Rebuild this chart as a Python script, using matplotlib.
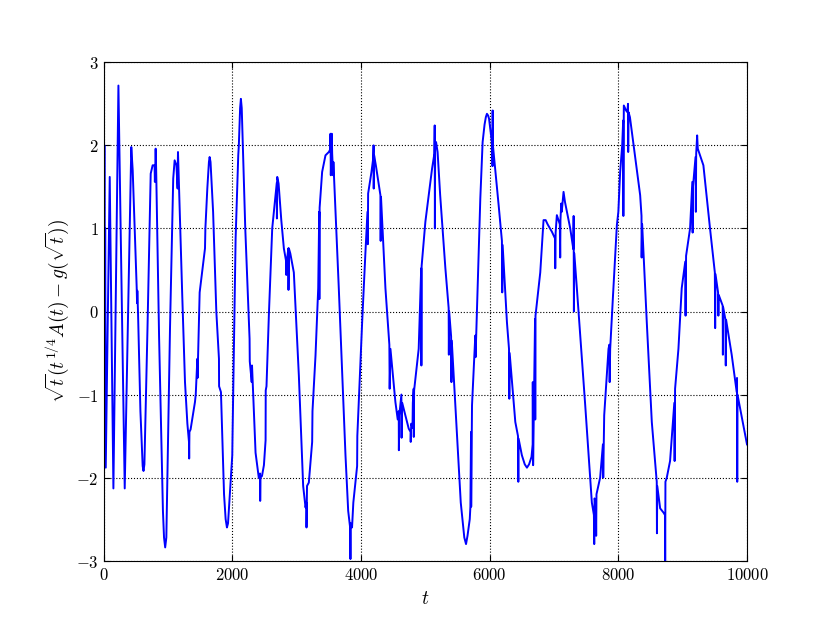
import numpy as np
import matplotlib
matplotlib.use('Agg')
import matplotlib.pyplot as plt
from matplotlib.ticker import FuncFormatter

# values (t, y), spikes as short excursions
t_vals = [0, 5, 10, 15, 22, 31, 93, 150, 228, 326, 428, 450, 512, 518, 522, 533,
          570, 605, 618, 632, 680, 730, 760, 790, 795, 800, 807, 815, 860, 920,
          937, 955, 973, 1030, 1080, 1102, 1130, 1148, 1150, 1154, 1170, 1220,
          1263, 1300, 1325, 1328, 1332, 1350, 1418, 1430, 1455, 1458, 1491, 1574,
          1580, 1610, 1620, 1635, 1646, 1660, 1700, 1750, 1791, 1793, 1822, 1870,
          1895, 1915, 1932, 1998, 2002, 2050, 2091, 2100, 2120, 2132, 2145, 2200,
          2267, 2270, 2300, 2305, 2360, 2410, 2430, 2432, 2436, 2460, 2490, 2516,
          2518, 2530, 2567, 2619, 2671, 2690, 2692, 2697, 2718, 2760, 2800, 2836,
          2838, 2845, 2870, 2872, 2878, 2900, 2955, 3033, 3100, 3137, 3150, 3152,
          3160, 3188, 3200, 3240, 3245, 3292, 3334, 3350, 3352, 3356, 3395, 3447,
          3499, 3520, 3525, 3530, 3545, 3551, 3566, 3570, 3654, 3758, 3800, 3830,
          3835, 3840, 3860, 3880, 3939, 3942, 4017, 4068, 4100, 4105, 4110, 4162,
          4190, 4195, 4197, 4203, 4230, 4290, 4301, 4305, 4310, 4379, 4440, 4445,
          4457, 4534, 4570, 4586, 4588, 4595, 4627, 4630, 4640, 4689, 4741, 4770,
          4772, 4780, 4800, 4805, 4818, 4820, 4825, 4896, 4935, 4938, 4942, 5000,
          5052, 5104, 5140, 5145, 5148, 5152, 5166, 5190, 5230, 5311, 5362, 5365,
          5370, 5400, 5405, 5410, 5466, 5550, 5605, 5632, 5655, 5690, 5700, 5710,
          5712, 5725, 5776, 5780, 5828, 5854, 5890, 5920, 5940, 5957, 5975, 5990,
          6040, 6044, 6046, 6050, 6139, 6190, 6195, 6201, 6268, 6300, 6305, 6310,
          6398, 6440, 6445, 6449, 6500, 6545, 6579, 6612, 6650, 6668, 6670, 6675,
          6690, 6705, 6708, 6712, 6786, 6837, 6870, 6900, 6967, 7015, 7019, 7025,
          7044, 7090, 7096, 7100, 7112, 7120, 7148, 7170, 7252, 7300, 7305, 7309,
          7315, 7355, 7485, 7588, 7620, 7625, 7630, 7650, 7655, 7660, 7717, 7760,
          7765, 7780, 7847, 7860, 7865, 7873, 7914, 7977, 8000, 8028, 8060, 8075,
          8078, 8085, 8120, 8140, 8150, 8153, 8158, 8180, 8339, 8360, 8362, 8370,
          8442, 8520, 8597, 8600, 8605, 8650, 8701, 8725, 8728, 8732, 8753, 8804,
          8850, 8870, 8875, 8882, 8934, 8985, 9040, 9045, 9053, 9115, 9150, 9155,
          9160, 9200, 9205, 9210, 9225, 9235, 9322, 9425, 9500, 9505, 9510, 9550,
          9555, 9560, 9622, 9625, 9630, 9665, 9670, 9675, 9762, 9840, 9845, 9848,
          9852, 10000]
y_vals = [2.35, -1.0, 2.0, -1.85, 1.0, -1.88, 1.62, -2.13, 2.72, -2.13, 1.98, 1.7,
          0.29, 0.1, 0.25, -0.02, -1.2, -1.86, -1.92, -1.84, -0.2, 1.66, 1.76,
          1.76, 1.56, 1.7, 1.96, 1.7, -0.3, -2.4, -2.72, -2.84, -2.72, -0.2, 1.6,
          1.82, 1.76, 1.48, 1.7, 1.92, 1.5, 0.2, -0.85, -1.35, -1.57, -1.77,
          -1.45, -1.42, -1.09, -1.0, -0.57, -0.8, 0.23, 0.76, 1.0, 1.48, 1.6,
          1.8, 1.86, 1.8, 1.2, 0.0, -0.57, -0.9, -0.97, -2.2, -2.5, -2.6, -2.55,
          -1.73, -1.5, 0.88, 1.88, 2.0, 2.45, 2.56, 2.45, 1.0, -0.33, -0.6,
          -0.85, -0.65, -1.7, -2.0, -1.95, -2.28, -2.0, -1.98, -1.85, -1.55,
          -0.95, -0.9, -0.04, 1.0, 1.4, 1.55, 1.12, 1.62, 1.54, 1.1, 0.76, 0.6,
          0.44, 0.6, 0.76, 0.26, 0.76, 0.7, 0.47, -0.77, -2.1, -2.36, -2.3, -2.6,
          -2.1, -2.06, -1.95, -1.57, -1.2, -0.53, 0.28, 1.2, 0.15, 1.25, 1.68,
          1.88, 1.92, 1.95, 2.14, 1.64, 2.14, 1.9, 1.64, 1.8, 0.28, -1.73, -2.4,
          -2.6, -2.98, -2.55, -2.6, -2.3, -1.86, -1.5, -0.13, 0.71, 1.2, 0.81,
          1.42, 1.68, 1.85, 2.0, 1.48, 1.88, 1.76, 1.45, 1.4, 0.85, 1.38, 0.28,
          -0.4, -0.93, -0.45, -1.09, -1.3, -1.2, -1.67, -1.25, -1.0, -1.52, -1.1,
          -1.25, -1.41, -1.45, -1.57, -1.35, -1.4, -1.1, -0.93, -1.51, -0.95,
          -0.45, 0.52, -0.65, 0.55, 1.08, 1.4, 1.72, 1.9, 2.24, 1.0, 2.0, 2.04,
          1.92, 1.4, 0.52, 0.04, -0.52, 0.0, -0.3, -0.85, -0.35, -1.13, -2.3,
          -2.72, -2.8, -2.7, -2.5, -2.35, -1.45, -2.35, -1.13, -0.29, -0.55, 0.67,
          1.36, 2.04, 2.25, 2.34, 2.38, 2.36, 2.32, 2.0, 1.75, 2.42, 2.0, 1.28,
          0.85, 0.23, 0.8, -0.13, -0.45, -1.05, -0.5, -1.33, -1.5, -2.05, -1.53,
          -1.73, -1.84, -1.88, -1.84, -1.75, -1.6, -0.85, -1.85, -1.0, -0.09,
          -1.3, -0.05, 0.47, 1.1, 1.1, 1.05, 0.96, 0.88, 0.52, 0.95, 1.16, 1.05,
          0.65, 1.1, 1.3, 1.2, 1.44, 1.32, 1.0, 0.75, 1.15, 0.0, 0.7, 0.28,
          -1.13, -2.3, -2.45, -2.8, -2.25, -2.3, -2.7, -2.2, -2.0, -1.6, -2.0,
          -1.25, -0.45, -0.4, -0.85, -0.45, 0.15, 1.04, 1.2, 1.68, 2.0, 2.3, 1.15,
          2.48, 2.42, 2.4, 2.5, 1.92, 2.4, 2.34, 1.4, 1.15, 0.65, 1.05, -0.13,
          -1.33, -2.05, -2.67, -2.1, -2.37, -2.42, -2.45, -3.1, -2.05, -2.0,
          -1.8, -1.3, -1.1, -1.8, -0.93, -0.45, 0.28, 0.6, -0.05, 0.67, 1.0, 1.56,
          0.95, 1.5, 1.86, 1.2, 1.9, 2.12, 1.96, 1.76, 1.0, 0.47, -0.2, 0.45,
          0.23, -0.05, 0.2, 0.07, -0.52, 0.05, -0.1, -0.65, -0.1, -0.52, -0.97,
          -0.8, -2.05, -1.0, -1.6]

x_ticks = [0, 2000, 4000, 6000, 8000, 10000]
y_ticks = [-3, -2, -1, 0, 1, 2, 3]

plt.rcParams['mathtext.fontset'] = 'cm'

fig = plt.figure(figsize=(8.3, 6.23), dpi=100)
ax = fig.add_axes([0.125, 0.1, 0.775, 0.8])

ax.plot(t_vals, y_vals, color='b', linewidth=1.4)

ax.set_xlim(0, 10000)
ax.set_ylim(-3, 3)
ax.set_xticks(x_ticks)
ax.set_yticks(y_ticks)
ax.xaxis.set_major_formatter(FuncFormatter(lambda v, p: r'$%d$' % v))
ax.yaxis.set_major_formatter(FuncFormatter(lambda v, p: r'$%d$' % v))
ax.tick_params(direction='in', top=True, right=True, labelsize=12, length=4)
ax.grid(True, color='k', linestyle=':', linewidth=0.8)

ax.set_xlabel(r'$t$', fontsize=14)
ax.set_ylabel(r'$\sqrt{t}(t^{1/4}A(t)-g(\sqrt{t}))$', fontsize=14)

fig.savefig('out.png')
